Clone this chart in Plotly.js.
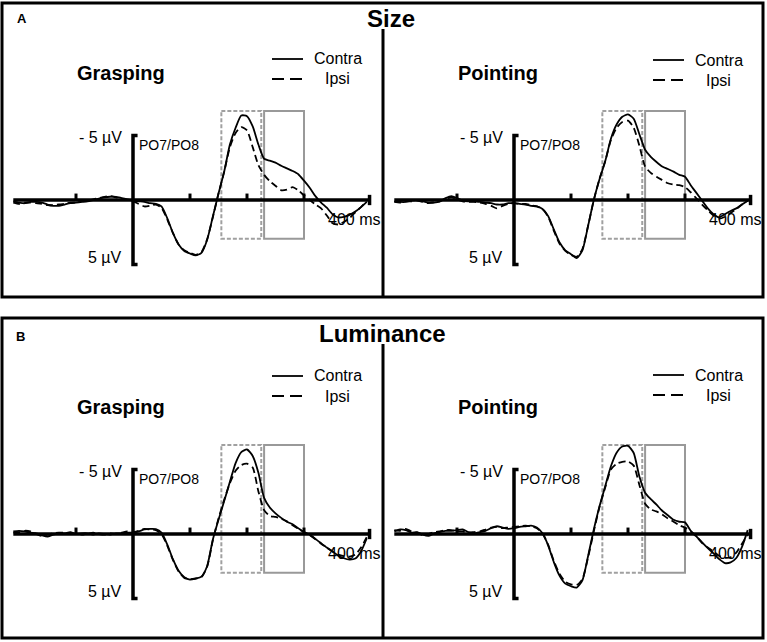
<!DOCTYPE html>
<html><head><meta charset="utf-8">
<script src="https://cdn.plot.ly/plotly-3.0.1.min.js"></script>
<style>html,body{margin:0;padding:0;background:#fff;overflow:hidden}#chart{width:767px;height:642px}</style>
</head><body><div id="chart"></div>
<script>
// ---------- DATA ----------
const timeMs = [-210,-200,-190,-180,-170,-160,-150,-140,-130,-120,-110,-100,-90,-80,-70,-60,-50,-40,-30,-20,-10,0,
  10,20,30,40,50,60,70,80,90,100,110,120,130,140,150,160,170,180,190,200,210,220,230,240,250,260,270,280,290,300,
  310,320,330,340,350,360,370,380,390,400,410];

// µV, negative plotted upward
const sizeGraspContra = [0.1,0.2,0.25,0.15,0.15,0.2,0.35,0.45,0.45,0.35,0.25,0.2,0.15,0.1,0.0,-0.1,-0.2,-0.25,-0.25,-0.15,-0.05,0.05,
  0.1,0.15,0.25,0.3,0.5,1.4,2.55,3.45,3.95,4.15,4.3,4.1,3.1,1.3,-0.5,-2.2,-4.3,-5.6,-6.55,-6.5,-5.7,-4.3,-3.2,-3.05,-2.9,-2.65,-2.45,-2.25,-2.0,-1.5,-0.95,-0.3,0.2,0.6,1.1,1.35,1.3,1.15,0.9,0.55,0.15];
const sizeGraspIpsi = [0.2,0.3,0.2,0.2,0.25,0.3,0.4,0.4,0.35,0.3,0.2,0.2,0.1,0.05,-0.05,-0.15,-0.25,-0.3,-0.2,-0.1,0.0,0.1,
  0.3,0.5,0.45,0.35,0.6,1.5,2.55,3.45,3.9,4.1,4.25,4.05,3.05,1.35,-0.5,-2.2,-4.1,-5.2,-5.65,-5.4,-4.1,-2.7,-1.95,-1.45,-1.1,-0.75,-0.8,-1.0,-0.75,-0.35,0.0,0.35,0.65,1.2,1.8,1.9,1.7,1.4,0.95,0.55,0.1];
const sizePointContra = [0.1,0.15,0.15,0.05,0.0,0.1,0.2,0.2,0.1,-0.15,-0.3,-0.15,0.05,0.1,0.1,0.15,0.2,0.25,0.35,0.35,0.25,0.25,
  0.3,0.35,0.45,0.5,0.7,1.25,2.3,3.3,3.9,4.2,4.5,3.9,2.0,0.0,-1.6,-3.0,-4.75,-5.85,-6.45,-6.64,-6.3,-5.1,-3.9,-3.35,-2.95,-2.6,-2.4,-2.2,-1.95,-1.8,-1.15,-0.55,0.05,0.65,1.1,1.35,1.1,0.85,0.65,0.35,0.05];
const sizePointIpsi = [0.15,0.2,0.1,0.1,0.05,0.15,0.25,0.15,0.1,-0.1,-0.2,-0.05,0.1,0.15,0.15,0.2,0.3,0.45,0.65,0.45,0.3,0.25,
  0.3,0.3,0.4,0.5,0.7,1.3,2.4,3.4,3.95,4.25,4.4,3.8,2.0,0.0,-1.65,-3.0,-4.65,-5.6,-6.05,-6.15,-5.6,-4.2,-2.6,-2.1,-1.8,-1.55,-1.3,-1.2,-1.15,-1.0,-0.6,-0.13,0.35,0.8,1.2,1.45,1.3,1.0,0.7,0.35,0.05];
const lumGraspContra = [-0.2,-0.25,-0.2,-0.1,-0.05,0.1,0.2,0.05,-0.05,-0.05,-0.15,0.0,-0.05,-0.05,0.05,-0.05,0.0,0.05,-0.05,-0.05,-0.1,-0.1,
  -0.2,-0.35,-0.4,-0.38,-0.1,0.8,1.95,2.85,3.35,3.54,3.45,3.3,2.5,0.45,-1.1,-2.55,-4.05,-5.5,-6.35,-6.55,-6.05,-4.75,-2.8,-2.05,-1.6,-1.25,-0.95,-0.75,-0.45,-0.15,0.05,0.38,0.72,1.05,1.35,1.68,1.88,1.98,1.9,1.35,0.35];
const lumGraspIpsi = [-0.1,-0.15,-0.25,-0.2,0.0,0.15,0.05,-0.05,-0.1,-0.1,0.0,-0.05,0.05,0.0,-0.1,0.0,0.05,-0.05,0.0,-0.1,-0.2,-0.15,
  -0.25,-0.4,-0.35,-0.3,0.0,0.9,2.0,2.9,3.4,3.5,3.45,3.35,2.55,0.5,-1.2,-2.65,-3.95,-4.9,-5.35,-5.45,-5.15,-3.3,-1.85,-1.4,-1.32,-1.18,-0.98,-0.68,-0.4,-0.15,0.1,0.4,0.75,1.05,1.35,1.6,1.72,1.75,1.6,1.05,0.25];
const lumPointContra = [-0.2,-0.35,-0.3,-0.1,-0.15,0.05,0.15,-0.05,-0.15,-0.25,-0.25,-0.3,-0.35,-0.15,-0.05,-0.15,-0.25,-0.45,-0.6,-0.5,-0.4,-0.45,
  -0.55,-0.6,-0.65,-0.5,-0.05,0.9,2.2,3.25,3.85,4.05,4.15,3.6,1.7,-0.35,-2.15,-3.7,-5.25,-6.3,-6.78,-6.83,-6.28,-4.45,-3.2,-2.7,-2.27,-1.8,-1.45,-1.1,-0.95,-0.9,-0.25,0.18,0.65,1.1,1.5,1.95,2.25,2.2,1.86,1.0,-0.3];
const lumPointIpsi = [-0.3,-0.25,-0.4,-0.2,-0.1,0.1,0.0,-0.15,-0.2,-0.3,-0.3,-0.2,-0.2,-0.1,-0.15,-0.2,-0.35,-0.5,-0.55,-0.45,-0.5,-0.55,
  -0.6,-0.65,-0.6,-0.45,-0.05,0.85,2.1,3.1,3.7,3.9,3.95,3.5,1.8,-0.2,-2.1,-3.6,-5.0,-5.45,-5.6,-5.62,-5.3,-3.8,-2.35,-1.9,-1.75,-1.52,-1.2,-0.95,-0.68,-0.5,-0.2,0.2,0.7,1.05,1.35,1.7,1.84,1.8,1.45,0.75,0.05];

const tickMs = [-100, 100, 200, 300];
const axisStartMs = -210, axisEndMs = 415;
const scaleUv = [-5, 5];
const windowEarlyMs = [155, 225];
const windowLateMs = [230, 300];
const windowUv = [-6.9, 3.0];

const conditionTitles = ['Size', 'Luminance'];
const panelLetters = ['A', 'B'];
const taskLabels = ['Grasping', 'Pointing'];
const seriesLabels = ['Contra', 'Ipsi'];
const scaleLabels = ['- 5 µV', '5 µV'];
const electrodeLabel = 'PO7/PO8';
const timeLabel = '400 ms';

// ---------- LAYOUT ----------
const W = 767, H = 642;
const PX_PER_MS = 0.57, PX_PER_UV = 12.9;
const FONT = '"Liberation Sans", Arial, Helvetica, sans-serif';
const px = x => x / W, py = y => 1 - y / H;

const panels = [
  {x0: 133, y0: 200, contra: sizeGraspContra, ipsi: sizeGraspIpsi, task: taskLabels[0], legY: [59, 79]},
  {x0: 514, y0: 200, contra: sizePointContra, ipsi: sizePointIpsi, task: taskLabels[1], legY: [60, 80]},
  {x0: 133, y0: 534, contra: lumGraspContra, ipsi: lumGraspIpsi, task: taskLabels[0], legY: [376, 396]},
  {x0: 514, y0: 534, contra: lumPointContra, ipsi: lumPointIpsi, task: taskLabels[1], legY: [375, 395]}
];

const data = [], shapes = [], annotations = [];
const layout = {
  width: W, height: H, margin: {l: 0, r: 0, t: 0, b: 0},
  paper_bgcolor: '#fff', plot_bgcolor: 'rgba(0,0,0,0)', showlegend: false,
  font: {family: FONT, color: '#000'}
};

function ann(text, x, y, size, xanchor, bold) {
  annotations.push({text: bold ? '<b>' + text + '</b>' : text, x: px(x), y: py(y), xref: 'paper', yref: 'paper',
    showarrow: false, xanchor: xanchor || 'center', yanchor: 'middle',
    font: {family: FONT, size: size, color: '#000'}});
}

panels.forEach((p, i) => {
  const n = i + 1;
  const xa = 'xaxis' + (n === 1 ? '' : n), ya = 'yaxis' + (n === 1 ? '' : n);
  const xr = 'x' + (n === 1 ? '' : n), yr = 'y' + (n === 1 ? '' : n);
  const L = p.x0 - 130, R = p.x0 + 250, T = p.y0 - 110, B = p.y0 + 90;
  layout[xa] = {domain: [px(L), px(R)], range: [-130 / PX_PER_MS, 250 / PX_PER_MS], visible: false, fixedrange: true, anchor: yr};
  layout[ya] = {domain: [py(B), py(T)], range: [90 / PX_PER_UV, -110 / PX_PER_UV], visible: false, fixedrange: true, anchor: xr};

  // analysis windows
  shapes.push({type: 'rect', xref: xr, yref: yr, x0: windowEarlyMs[0], x1: windowEarlyMs[1], y0: windowUv[0], y1: windowUv[1],
    line: {color: '#a0a0a0', width: 2, dash: '4px,2px'}, layer: 'below'});
  shapes.push({type: 'rect', xref: xr, yref: yr, x0: windowLateMs[0], x1: windowLateMs[1], y0: windowUv[0], y1: windowUv[1],
    line: {color: '#999999', width: 2}, layer: 'below'});
  // time axis
  shapes.push({type: 'line', xref: xr, yref: yr, x0: axisStartMs, x1: axisEndMs, y0: 0, y1: 0,
    line: {color: '#000', width: 3.5}, layer: 'below'});
  tickMs.forEach(t => shapes.push({type: 'line', xref: xr, yref: yr, x0: t, x1: t, y0: 0, y1: -0.5,
    line: {color: '#000', width: 3}, layer: 'below'}));
  shapes.push({type: 'line', xref: xr, yref: yr, x0: axisEndMs, x1: axisEndMs, y0: -0.4, y1: 0.4,
    line: {color: '#000', width: 3.5}, layer: 'below'});
  // voltage scale bracket
  shapes.push({type: 'path', xref: xr, yref: yr,
    path: `M 8,${scaleUv[0]} L 0,${scaleUv[0]} L 0,${scaleUv[1]} L 8,${scaleUv[1]}`,
    line: {color: '#000', width: 3.5}, layer: 'below'});

  // waveforms
  data.push({x: timeMs, y: p.contra, xaxis: xr, yaxis: yr, type: 'scatter', mode: 'lines', hoverinfo: 'skip',
    line: {color: '#000', width: 1.8, shape: 'spline', smoothing: 0.6}, name: seriesLabels[0]});
  data.push({x: timeMs, y: p.ipsi, xaxis: xr, yaxis: yr, type: 'scatter', mode: 'lines', hoverinfo: 'skip',
    line: {color: '#000', width: 1.8, dash: '7px,4px', shape: 'spline', smoothing: 0.6}, name: seriesLabels[1]});

  // texts
  ann(p.task, p.x0 - 58, p.y0 - 127, 20, 'left', true);
  ann(scaleLabels[0], p.x0 - 9, p.y0 - 62.5, 16, 'right');
  ann(scaleLabels[1], p.x0 - 9, p.y0 + 57.5, 16, 'right');
  ann(electrodeLabel, p.x0 + 4, p.y0 - 55.5, 14, 'left');
  ann(timeLabel, p.x0 + 221, p.y0 + 19, 16, 'center');

  // legend
  shapes.push({type: 'line', xref: 'paper', yref: 'paper', x0: px(p.x0 + 139), x1: px(p.x0 + 170), y0: py(p.legY[0]), y1: py(p.legY[0]),
    line: {color: '#000', width: 1.8}});
  shapes.push({type: 'line', xref: 'paper', yref: 'paper', x0: px(p.x0 + 139), x1: px(p.x0 + 170), y0: py(p.legY[1]), y1: py(p.legY[1]),
    line: {color: '#000', width: 1.8, dash: '12px,6px'}});
  ann(seriesLabels[0], p.x0 + 179, p.legY[0], 16, 'left');
  ann(seriesLabels[1], p.x0 + 204, p.legY[1], 16, 'center');
});

// frames
function frame(top, bottom, divTop) {
  shapes.push({type: 'rect', xref: 'paper', yref: 'paper', x0: px(2), x1: px(763), y0: py(bottom), y1: py(top),
    line: {color: '#000', width: 3}});
  shapes.push({type: 'line', xref: 'paper', yref: 'paper', x0: px(383), x1: px(383), y0: py(bottom), y1: py(divTop),
    line: {color: '#000', width: 3}});
}
frame(3, 297, 29);
frame(318, 638, 344);

ann(conditionTitles[0], 391, 19, 24, 'center', true);
ann(conditionTitles[1], 382, 333.5, 24, 'center', true);
ann(panelLetters[0], 21.5, 19, 13, 'center', true);
ann(panelLetters[1], 20, 336.5, 13, 'center', true);

layout.shapes = shapes;
layout.annotations = annotations;

Plotly.newPlot('chart', data, layout, {staticPlot: true, displayModeBar: false});
</script>
</body></html>
